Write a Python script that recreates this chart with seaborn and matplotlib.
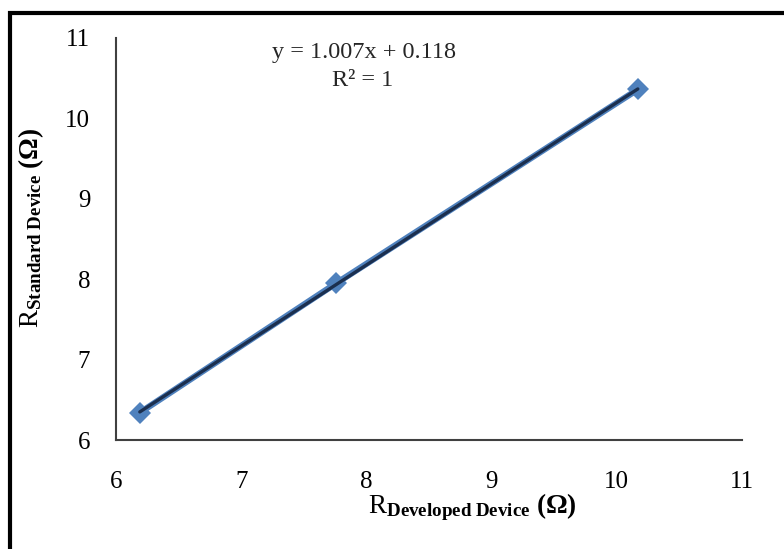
import numpy as np
import pandas as pd
import matplotlib
matplotlib.use("Agg")
import matplotlib.pyplot as plt
import seaborn as sns
from matplotlib.patches import Rectangle

# data
r_developed = [6.19, 7.76, 10.17]
r_standard = [6.34, 7.95, 10.36]
x_ticks = [6, 7, 8, 9, 10, 11]
y_ticks = [6, 7, 8, 9, 10, 11]
eq_text = "y = 1.007x + 0.118"
r2_text = "R² = 1"

sns.set_theme(style="white")
plt.rcParams['font.family'] = ['Liberation Serif', 'DejaVu Serif']
plt.rcParams['mathtext.fontset'] = 'custom'
plt.rcParams['mathtext.rm'] = 'Liberation Serif'
plt.rcParams['mathtext.bf'] = 'Liberation Serif:bold'
plt.rcParams['mathtext.it'] = 'Liberation Serif:italic'

df = pd.DataFrame({"dev": r_developed, "std": r_standard})

fig = plt.figure(figsize=(7.84, 5.49), dpi=100)
ax = fig.add_axes([0.148, 0.1985, 0.798, 0.7323])

# data series + linear trendline on top
sns.lineplot(data=df, x="dev", y="std", ax=ax, color="#4F81BD", lw=4.5,
             marker="D", markersize=11, markeredgewidth=0, zorder=2)
sns.regplot(data=df, x="dev", y="std", ax=ax, scatter=False, ci=None,
            truncate=True, line_kws={"color": "#1B2F4F", "lw": 2.4, "zorder": 3})

ax.set_xlim(6, 11)
ax.set_ylim(6, 11)
ax.set_xticks(x_ticks)
ax.set_yticks(y_ticks)

for s in ["top", "right"]:
    ax.spines[s].set_visible(False)
for s in ["left", "bottom"]:
    ax.spines[s].set_color("#404040")
    ax.spines[s].set_linewidth(1.5)

ax.tick_params(axis="both", direction="out", length=4.5, width=1.3,
               color="#404040", labelsize=18, labelcolor="black")
ax.tick_params(axis="y", pad=14)
ax.tick_params(axis="x", pad=18)

ax.set_xlabel(r'$\mathrm{R}_{\mathbf{Developed\ Device}}\ \mathbf{(\Omega)}$',
              fontsize=19.5, color="black")
ax.xaxis.set_label_coords(0.569, -0.128)
ax.set_ylabel(r'$\mathrm{R}_{\mathbf{Standard\ Device}}\ \mathbf{(\Omega)}$',
              fontsize=19.5, color="black")
ax.yaxis.set_label_coords(-0.112, 0.527)

fig.text(0.464, 0.905, eq_text, ha="center", va="center", fontsize=17.5)
fig.text(0.462, 0.854, r2_text, ha="center", va="center", fontsize=17.5)

# outer frame of the pasted figure (cut off at right and bottom)
fig.patches.append(Rectangle((0.0128, -0.5), 2, 0.9763 + 0.5, transform=fig.transFigure,
                             fill=False, edgecolor="black", lw=3))

fig.savefig("out.png", dpi=100)
